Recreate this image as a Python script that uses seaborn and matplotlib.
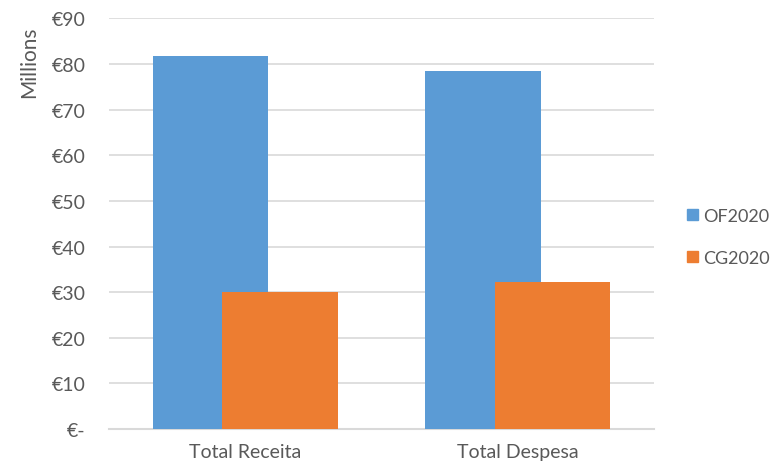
import matplotlib
matplotlib.use("Agg")
import matplotlib.pyplot as plt
import matplotlib.patches as mpatches
import seaborn as sns
import numpy as np

categories = ["Total Receita", "Total Despesa"]
series_names = ["OF2020", "CG2020"]
of2020 = [81.8, 78.5]
cg2020 = [30.0, 32.2]
yticks = [0, 10, 20, 30, 40, 50, 60, 70, 80, 90]
ytick_labels = ["€-", "€10", "€20", "€30", "€40", "€50", "€60", "€70", "€80", "€90"]

colors = ["#5B9BD5", "#ED7D31"]
text_color = "#595959"
grid_color = "#D9D9D9"

sns.set_theme(style="white")
plt.rcParams["font.family"] = ["Lato", "DejaVu Sans"]

fig = plt.figure(figsize=(7.74, 4.64), dpi=100)
ax = fig.add_axes([0.1408, 0.0733, 0.845 - 0.1408, 0.958 - 0.0733])

idx = np.arange(len(categories))
offset = 0.128
bar_w = 0.424
for vals, off, col, name in [(of2020, -offset, colors[0], series_names[0]),
                             (cg2020, offset, colors[1], series_names[1])]:
    sns.barplot(x=idx + off, y=vals, native_scale=True, width=bar_w,
                color=col, saturation=1, linewidth=0,
                ax=ax, zorder=3, label=name)

ax.set_xlim(-0.5, len(categories) - 0.5)
ax.set_ylim(0, 90)
ax.set_xticks(idx)
ax.set_xticklabels(categories, fontsize=14, color=text_color)
ax.set_yticks(yticks)
ax.set_yticklabels(ytick_labels, fontsize=14, color=text_color)
ax.tick_params(axis="y", length=0, pad=17)
ax.tick_params(axis="x", length=0, pad=10)
for lab in ax.get_yticklabels():
    lab.set_horizontalalignment("right")

ax.yaxis.grid(True, color=grid_color, linewidth=1.2, zorder=0)
ax.xaxis.grid(False)
ax.set_axisbelow(True)
for s in ["top", "right", "left"]:
    ax.spines[s].set_visible(False)
ax.spines["bottom"].set_color(grid_color)
ax.spines["bottom"].set_linewidth(1.5)
ax.set_xlabel("")
ax.set_ylabel("Millions", fontsize=15, color=text_color, loc="top")
ax.yaxis.set_label_coords(-0.128, 0.982)

if ax.get_legend():
    ax.get_legend().remove()
handles = [mpatches.Patch(color=c, label=n) for c, n in zip(colors, series_names)]
fig.legend(handles=handles, loc="center left", bbox_to_anchor=(0.888, 0.487),
           frameon=False, fontsize=13, labelcolor=text_color,
           handlelength=0.6, handleheight=0.6, handletextpad=0.3,
           labelspacing=1.45, borderaxespad=0, borderpad=0)

fig.savefig("out.png", dpi=100)
